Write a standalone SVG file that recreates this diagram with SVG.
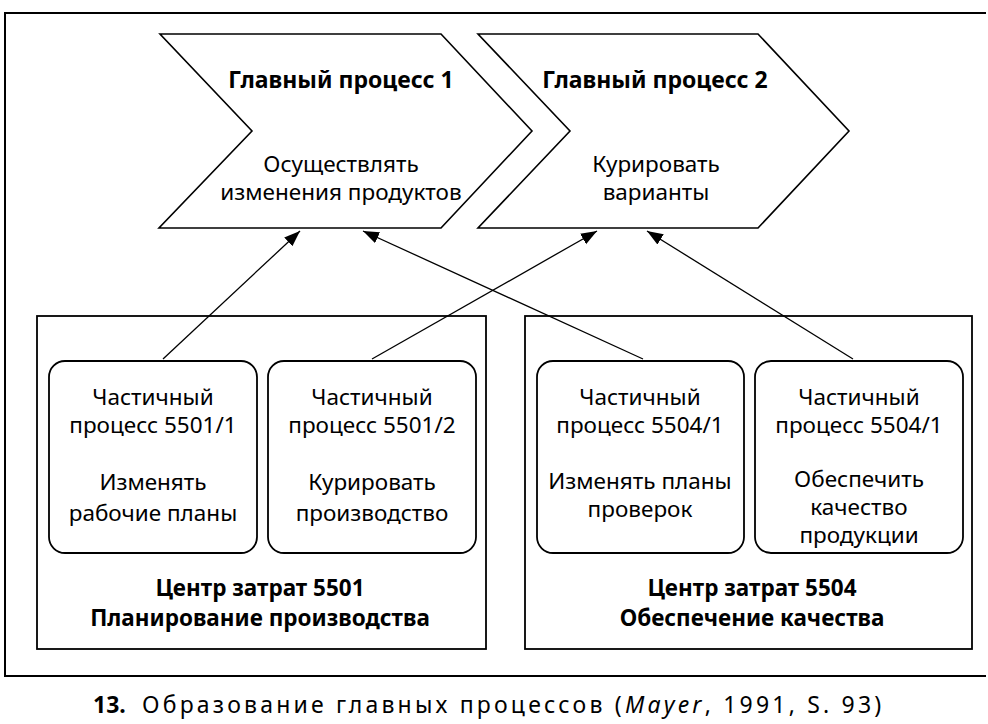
<svg xmlns="http://www.w3.org/2000/svg" width="988" height="724" viewBox="0 0 988 724">
<defs>
<style>
.frame{fill:none;stroke:#000;stroke-width:2}
.shape{fill:#fff;stroke:#000;stroke-width:1.6}
.box{fill:none;stroke:#000;stroke-width:1.8}
.conn{fill:none;stroke:#000;stroke-width:1.3}
text{font-family:"Noto Sans","Open Sans","DejaVu Sans",sans-serif;font-size:22.5px;fill:#000;text-anchor:middle}
.b{font-weight:bold;font-size:23px}
.bc{font-weight:bold;font-size:22.5px}
.cap{font-size:23px;letter-spacing:3.2px;text-anchor:start}
</style>
<marker id="ah" markerUnits="userSpaceOnUse" markerWidth="18" markerHeight="14" refX="16" refY="6" orient="auto">
<path d="M0,0 L16,6 L0,12 z" fill="#000"/>
</marker>
</defs>
<rect width="988" height="724" fill="#fff"/>
<path class="frame" d="M986,13 H5 V676 H986"/>

<g id="main1">
<polygon class="shape" points="160,34 441,34 532,131 441,228 159,228 252,131"/>
<text class="b" x="341" y="88">Главный процесс 1</text>
<text x="341" y="172">Осуществлять</text>
<text x="341" y="200">изменения продуктов</text>
</g>

<g id="main2">
<polygon class="shape" points="478,34 758,34 849,131 758,228 478,228 570,131"/>
<text class="b" x="655" y="88">Главный процесс 2</text>
<text x="656" y="172">Курировать</text>
<text x="656" y="200">варианты</text>
</g>

<g id="cc5501">
<rect class="box" x="37" y="316" width="449" height="333"/>
<text class="bc" x="260" y="596">Центр затрат 5501</text>
<text class="bc" x="260" y="626">Планирование производства</text>
</g>

<g id="cc5504">
<rect class="box" x="525" y="316" width="447" height="333"/>
<text class="bc" x="752" y="596">Центр затрат 5504</text>
<text class="bc" x="752" y="626">Обеспечение качества</text>
</g>

<g id="p5501-1">
<rect class="box" x="49" y="361" width="208" height="192" rx="16"/>
<text x="153" y="405">Частичный</text>
<text x="153" y="433">процесс 5501/1</text>
<text x="153" y="490">Изменять</text>
<text x="153" y="521">рабочие планы</text>
</g>

<g id="p5501-2">
<rect class="box" x="268" y="361" width="208" height="192" rx="16"/>
<text x="372" y="405">Частичный</text>
<text x="372" y="433">процесс 5501/2</text>
<text x="372" y="490">Курировать</text>
<text x="372" y="521">производство</text>
</g>

<g id="p5504-1a">
<rect class="box" x="537" y="361" width="207" height="192" rx="16"/>
<text x="640" y="405">Частичный</text>
<text x="640" y="433">процесс 5504/1</text>
<text x="640" y="489">Изменять планы</text>
<text x="640" y="517">проверок</text>
</g>

<g id="p5504-1b">
<rect class="box" x="755" y="361" width="208" height="192" rx="16"/>
<text x="859" y="405">Частичный</text>
<text x="859" y="433">процесс 5504/1</text>
<text x="859" y="487">Обеспечить</text>
<text x="859" y="515">качество</text>
<text x="859" y="543">продукции</text>
</g>

<g id="connectors">
<line class="conn" x1="163" y1="359" x2="300" y2="231" marker-end="url(#ah)"/>
<line class="conn" x1="643" y1="359" x2="363" y2="231" marker-end="url(#ah)"/>
<line class="conn" x1="372" y1="359" x2="597" y2="231" marker-end="url(#ah)"/>
<line class="conn" x1="853" y1="359" x2="647" y2="231" marker-end="url(#ah)"/>
</g>

<g id="caption">
<text class="cap" x="93" y="713"><tspan font-weight="bold" letter-spacing="0">13.</tspan><tspan x="142">Образование главных процессов (</tspan><tspan font-style="italic">Mayer</tspan>, 1991, S. 93)</text>
</g>
</svg>
